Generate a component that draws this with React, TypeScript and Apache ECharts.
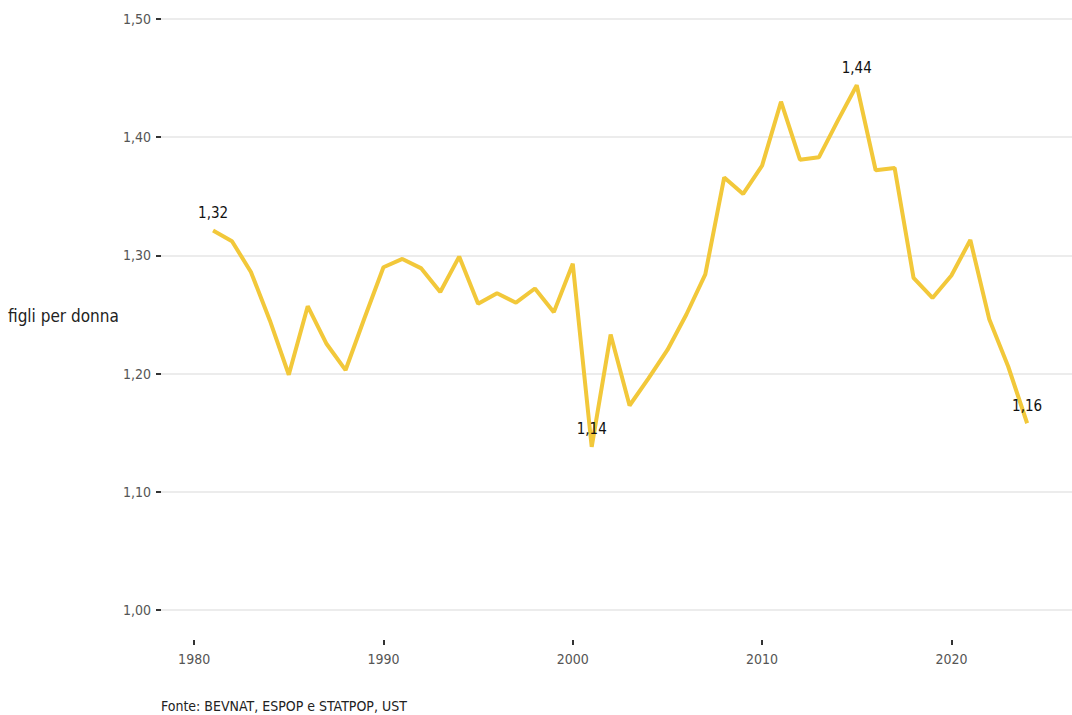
import React, { useEffect, useRef } from "react";
import * as echarts from "echarts";

const years: number[] = [
  1981, 1982, 1983, 1984, 1985, 1986, 1987, 1988, 1989, 1990,
  1991, 1992, 1993, 1994, 1995, 1996, 1997, 1998, 1999, 2000,
  2001, 2002, 2003, 2004, 2005, 2006, 2007, 2008, 2009, 2010,
  2011, 2012, 2013, 2014, 2015, 2016, 2017, 2018, 2019, 2020,
  2021, 2022, 2023, 2024,
];

const values: number[] = [
  1.321, 1.312, 1.286, 1.245, 1.199, 1.257, 1.225, 1.203, 1.247, 1.290,
  1.297, 1.289, 1.269, 1.299, 1.259, 1.268, 1.260, 1.272, 1.252, 1.293,
  1.138, 1.233, 1.173, 1.196, 1.220, 1.250, 1.284, 1.366, 1.352, 1.376,
  1.430, 1.381, 1.383, 1.414, 1.444, 1.372, 1.374, 1.281, 1.264, 1.283,
  1.313, 1.246, 1.206, 1.158,
];

const labeledYears: number[] = [1981, 2001, 2015, 2024];
const xTicks: number[] = [1980, 1990, 2000, 2010, 2020];

const yAxisTitle = "figli per donna";
const sourceText = "Fonte: BEVNAT, ESPOP e STATPOP, UST";

const FONT = "'Liberation Sans Narrow', 'DejaVu Sans Condensed', 'Roboto Condensed', sans-serif";

const fmt = (v: number) => v.toFixed(2).replace(".", ",");

export default function App() {
  const ref = useRef<HTMLDivElement>(null);

  useEffect(() => {
    if (!ref.current) return;
    const chart = echarts.init(ref.current, undefined, { renderer: "svg" });

    const data = years.map((y, i) => {
      const show = labeledYears.includes(y);
      return {
        value: [y, values[i]],
        symbol: show ? "circle" : "none",
        symbolSize: show ? 0.01 : 0,
        label: {
          show,
          position: "top",
          distance: 10,
          formatter: (p: any) => fmt(p.value[1]),
          color: "#111",
          fontSize: 15,
          fontFamily: FONT,
        },
      };
    });

    chart.setOption({
      animation: false,
      textStyle: { fontFamily: FONT },
      grid: { left: 161, right: 0, top: 19, bottom: 105, containLabel: false },
      xAxis: {
        type: "value",
        min: 1978.25,
        max: 2026.37,
        offset: 30,
        axisLine: { show: false },
        splitLine: { show: false },
        axisTick: {
          show: true,
          length: 5,
          customValues: xTicks,
          lineStyle: { color: "#333", width: 2 },
        },
        axisLabel: {
          customValues: xTicks,
          margin: 12,
          color: "#555",
          fontSize: 14,
          fontFamily: FONT,
          formatter: (v: number) => String(v),
        },
      },
      yAxis: {
        type: "value",
        min: 1.0,
        max: 1.5,
        interval: 0.1,
        axisLine: { show: false },
        axisTick: {
          show: true,
          length: 5,
          lineStyle: { color: "#333", width: 2 },
        },
        axisLabel: {
          margin: 10,
          color: "#555",
          fontSize: 14,
          fontFamily: FONT,
          formatter: (v: number) => fmt(v),
        },
        splitLine: { show: true, lineStyle: { color: "#e6e6e6", width: 1.5 } },
      },
      graphic: [
        {
          type: "text",
          left: 8,
          top: 307,
          style: {
            text: yAxisTitle,
            fill: "#222",
            fontSize: 17,
            fontFamily: FONT,
          },
        },
        {
          type: "text",
          left: 161,
          top: 699,
          style: {
            text: sourceText,
            fill: "#222",
            fontSize: 14,
            fontFamily: FONT,
          },
        },
      ],
      series: [
        {
          type: "line",
          data,
          showSymbol: true,
          lineStyle: { color: "#F2C83A", width: 4 },
          itemStyle: { color: "#F2C83A" },
          z: 3,
        },
      ],
    });

    return () => chart.dispose();
  }, []);

  return (
    <div
      ref={ref}
      style={{ position: "absolute", left: 0, top: 0, width: 1072, height: 715 }}
    />
  );
}
